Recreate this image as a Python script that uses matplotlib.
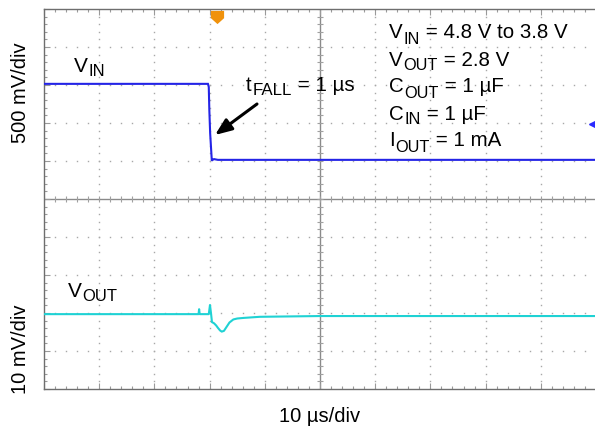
import matplotlib
matplotlib.use('Agg')
import matplotlib.pyplot as plt
import numpy as np
from matplotlib.path import Path

plt.rcParams['font.family'] = ['Liberation Sans', 'DejaVu Sans']

# ---------------- data ----------------
# VIN trace (time in us, volts)
vin_t = [0, 29.7, 29.85, 29.95, 30.1, 30.25, 30.4, 30.55, 30.8, 31.5, 100]
vin_v = [4.80, 4.80, 4.76, 4.46, 4.15, 3.97, 3.79, 3.80, 3.81, 3.80, 3.80]
# VOUT trace (time in us, mV deviation from 2.8 V)
vout_t = [0, 28.0, 28.1, 28.2, 29.85, 30.07, 30.25, 30.43, 30.8, 31.2, 31.5,
          31.9, 32.2, 32.6, 33.1, 33.6, 34.3, 35.0, 36.1, 39.1, 50, 100]
vout_mv = [0, 0, 1.3, 0, 0, 2.4, 0.3, -2.1, -2.4, -3.0, -3.6,
           -4.3, -4.6, -4.4, -3.3, -2.2, -1.4, -1.15, -1.0, -0.7, -0.5, -0.5]
trig_t = 31.3          # trigger marker position (us)
vin_ref_v = 4.27       # channel reference marker (V)

x_label = '10 µs/div'
y_label_top = '500 mV/div'
y_label_bot = '10 mV/div'
cond_lines = [
    [('V', False), ('IN', True), (' = 4.8 V to 3.8 V', False)],
    [('V', False), ('OUT', True), (' = 2.8 V', False)],
    [('C', False), ('OUT', True), (' = 1 µF', False)],
    [('C', False), ('IN', True), (' = 1 µF', False)],
    [('I', False), ('OUT', True), (' = 1 mA', False)],
]

# ---------------- layout ----------------
W, H, DPI = 595, 428, 100
L, R, T, B = 44, 596, 9, 389
fig = plt.figure(figsize=(W / DPI, H / DPI), dpi=DPI)
ax = fig.add_axes([L / W, (H - B) / H, (R - L) / W, (B - T) / H])
ax.set_xlim(0, 100)
ax.set_ylim(0, 10)

frame_c = '#6e6e6e'
grid_c = '#a8a8a8'
for s in ax.spines.values():
    s.set_color(frame_c)
    s.set_linewidth(1.0)

ax.set_xticks(np.arange(0, 101, 10))
ax.set_yticks(np.arange(0, 11, 1))
ax.set_xticks(np.arange(0, 101, 2), minor=True)
ax.set_yticks(np.arange(0, 10.01, 0.2), minor=True)
ax.tick_params(which='both', direction='in', top=True, right=True,
               labelbottom=False, labelleft=False, color='#9a9a9a', width=0.8)
ax.tick_params(which='major', length=4)
ax.tick_params(which='minor', length=2.5)

# dotted grid: dots at minor positions along major lines
xminor = np.arange(0, 100.01, 2)
yminor = np.arange(0, 10.01, 0.2)
for xv in range(10, 100, 10):
    if xv != 50:
        ax.plot([xv] * len(yminor), yminor, ls='none', marker='s', ms=1.0,
                mew=0, color=grid_c, zorder=1)
for yv in range(1, 10):
    if yv != 5:
        ax.plot(xminor, [yv] * len(xminor), ls='none', marker='s', ms=1.0,
                mew=0, color=grid_c, zorder=1)

# centre cross with small ticks
ax.axhline(5, color='#8a8a8a', lw=1.0, zorder=1)
ax.axvline(50, color='#8a8a8a', lw=1.0, zorder=1)
ax.plot(xminor, [5] * len(xminor), ls='none', marker='|', ms=5, mew=0.8,
        color='#a0a0a0', zorder=1)
ax.plot([50] * len(yminor), yminor, ls='none', marker='_', ms=5, mew=0.8,
        color='#a0a0a0', zorder=1)

# traces
ax_in = ax.twinx()
ax_in.set_ylim(0.785, 5.785)
ax_in.axis('off')
ax_in.plot(vin_t, vin_v, color='#2424e6', lw=1.5, solid_joinstyle='miter')
ax_in.plot([99.2], [vin_ref_v], marker='<', ms=5, color='#2a2aff', clip_on=False)

ax_out = ax.twinx()
ax_out.set_ylim(-19.7, 80.3)
ax_out.axis('off')
ax_out.plot(vout_t, vout_mv, color='#1fd2d4', lw=1.5)

# trigger marker (orange shield)
shield = Path([(-1, 1), (1, 1), (1, -0.1), (0, -1), (-1, -0.1), (-1, 1)],
              [Path.MOVETO, Path.LINETO, Path.LINETO, Path.LINETO, Path.LINETO,
               Path.CLOSEPOLY])
ax.plot([trig_t], [9.78], marker=shield, ms=9.5, color='#f0920c', mew=0,
        clip_on=False, zorder=5)

# ---------------- text ----------------
def rich(x, y, parts, size, sub_scale=0.8, sub_drop=4.0):
    prev = None
    for txt, sub in parts:
        fs = size * sub_scale if sub else size
        dy = -sub_drop if sub else 0
        if prev is None:
            prev = ax.annotate(txt, xy=(x, H - y), xycoords='figure pixels',
                               xytext=(0, dy), textcoords='offset pixels',
                               fontsize=fs, ha='left', va='baseline',
                               annotation_clip=False)
        else:
            prev = ax.annotate(txt, xy=(1, H - y),
                               xycoords=(prev, 'figure pixels'),
                               xytext=(0.5, dy), textcoords='offset pixels',
                               fontsize=fs, ha='left', va='baseline',
                               annotation_clip=False)
    return prev

rich(74, 72, [('V', False), ('IN', True)], 15, sub_scale=0.8, sub_drop=3.5)
rich(68, 297, [('V', False), ('OUT', True)], 15, sub_scale=0.8, sub_drop=4)
rich(246, 91, [('t', False), ('FALL', True), (' = 1 µs', False)], 14.8,
     sub_scale=0.82, sub_drop=4)

for i, parts in enumerate(cond_lines):
    rich(389, 38.5 + 27 * i, parts, 14.8, sub_scale=0.8, sub_drop=5)

# arrow
ax.annotate('', xy=(215, H - 135), xycoords='figure pixels',
            xytext=(257, H - 104), textcoords='figure pixels',
            arrowprops=dict(arrowstyle='-|>,head_length=1.0,head_width=0.4',
                            lw=2.2, color='black', shrinkA=0, shrinkB=0),
            annotation_clip=False)

fig.text(21 / W, 1 - 93 / H, y_label_top, rotation=90, fontsize=14.5,
         ha='center', va='center')
fig.text(21 / W, 1 - 349 / H, y_label_bot, rotation=90, fontsize=14.5,
         ha='center', va='center')
fig.text(320 / W, 1 - 422.5 / H, x_label, fontsize=14.5, ha='center',
         va='baseline')

fig.savefig('out.png', dpi=DPI)
